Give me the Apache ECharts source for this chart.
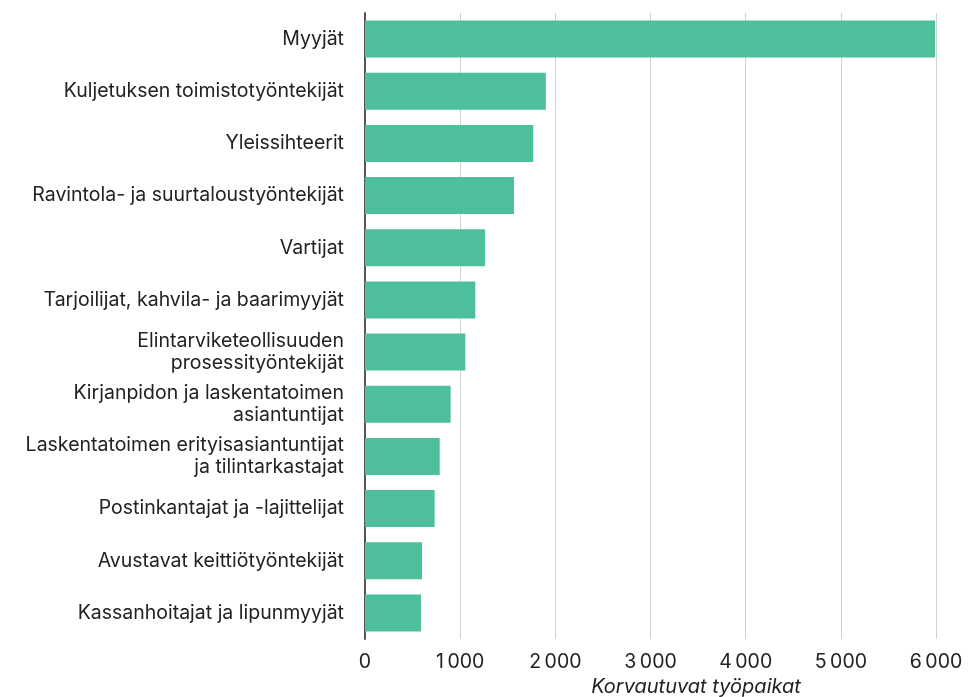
<!DOCTYPE html>
<html><head><meta charset="utf-8">
<script src="https://cdn.jsdelivr.net/npm/echarts@6/dist/echarts.min.js"></script>
<style>html,body{margin:0;padding:0;background:#fff}#c{width:977px;height:697px}</style>
</head><body><div id="c"></div>
<script>
const categories = [
  "Myyjät",
  "Kuljetuksen toimistotyöntekijät",
  "Yleissihteerit",
  "Ravintola- ja suurtaloustyöntekijät",
  "Vartijat",
  "Tarjoilijat, kahvila- ja baarimyyjät",
  "Elintarviketeollisuuden\nprosessityöntekijät",
  "Kirjanpidon ja laskentatoimen\nasiantuntijat",
  "Laskentatoimen erityisasiantuntijat\nja tilintarkastajat",
  "Postinkantajat ja -lajittelijat",
  "Avustavat keittiötyöntekijät",
  "Kassanhoitajat ja lipunmyyjät"
];
const values = [5990, 1900, 1768, 1566, 1261, 1159, 1054, 900, 785, 732, 599, 588];
const axisName = "Korvautuvat työpaikat";

const chart = echarts.init(document.getElementById('c'));
chart.setOption({
  animation: false,
  grid: { left: 365, right: 41, top: 13, bottom: 58, containLabel: false, outerBoundsMode: 'none' },
  xAxis: {
    type: 'value', min: 0, max: 6000, interval: 1000,
    axisLine: { show: false },
    axisTick: { show: false },
    splitLine: { show: true, lineStyle: { color: '#d0d0d0', width: 1 } },
    axisLabel: {
      color: '#222', fontSize: 19.5, fontFamily: 'Inter', margin: 13,
      formatter: v => v >= 1000 ? String(v).replace(/\B(?=(\d{3})+(?!\d))/g, '\u2009') : String(v)
    },
    name: axisName, nameLocation: 'middle', nameGap: 31,
    nameTextStyle: { color: '#222', fontSize: 20, fontFamily: 'Inter', fontStyle: 'italic', padding: [0, 0, 0, 91] }
  },
  yAxis: {
    type: 'category', data: categories, inverse: true,
    axisLine: { show: true, lineStyle: { color: '#555', width: 2 } },
    axisTick: { show: false },
    axisLabel: { color: '#222', fontSize: 19.5, fontFamily: 'Inter', margin: 21, lineHeight: 22, align: 'right' }
  },
  series: [{
    type: 'bar', data: values, barWidth: 37,
    itemStyle: { color: '#4dbf9c' }
  }]
});
</script></body></html>
